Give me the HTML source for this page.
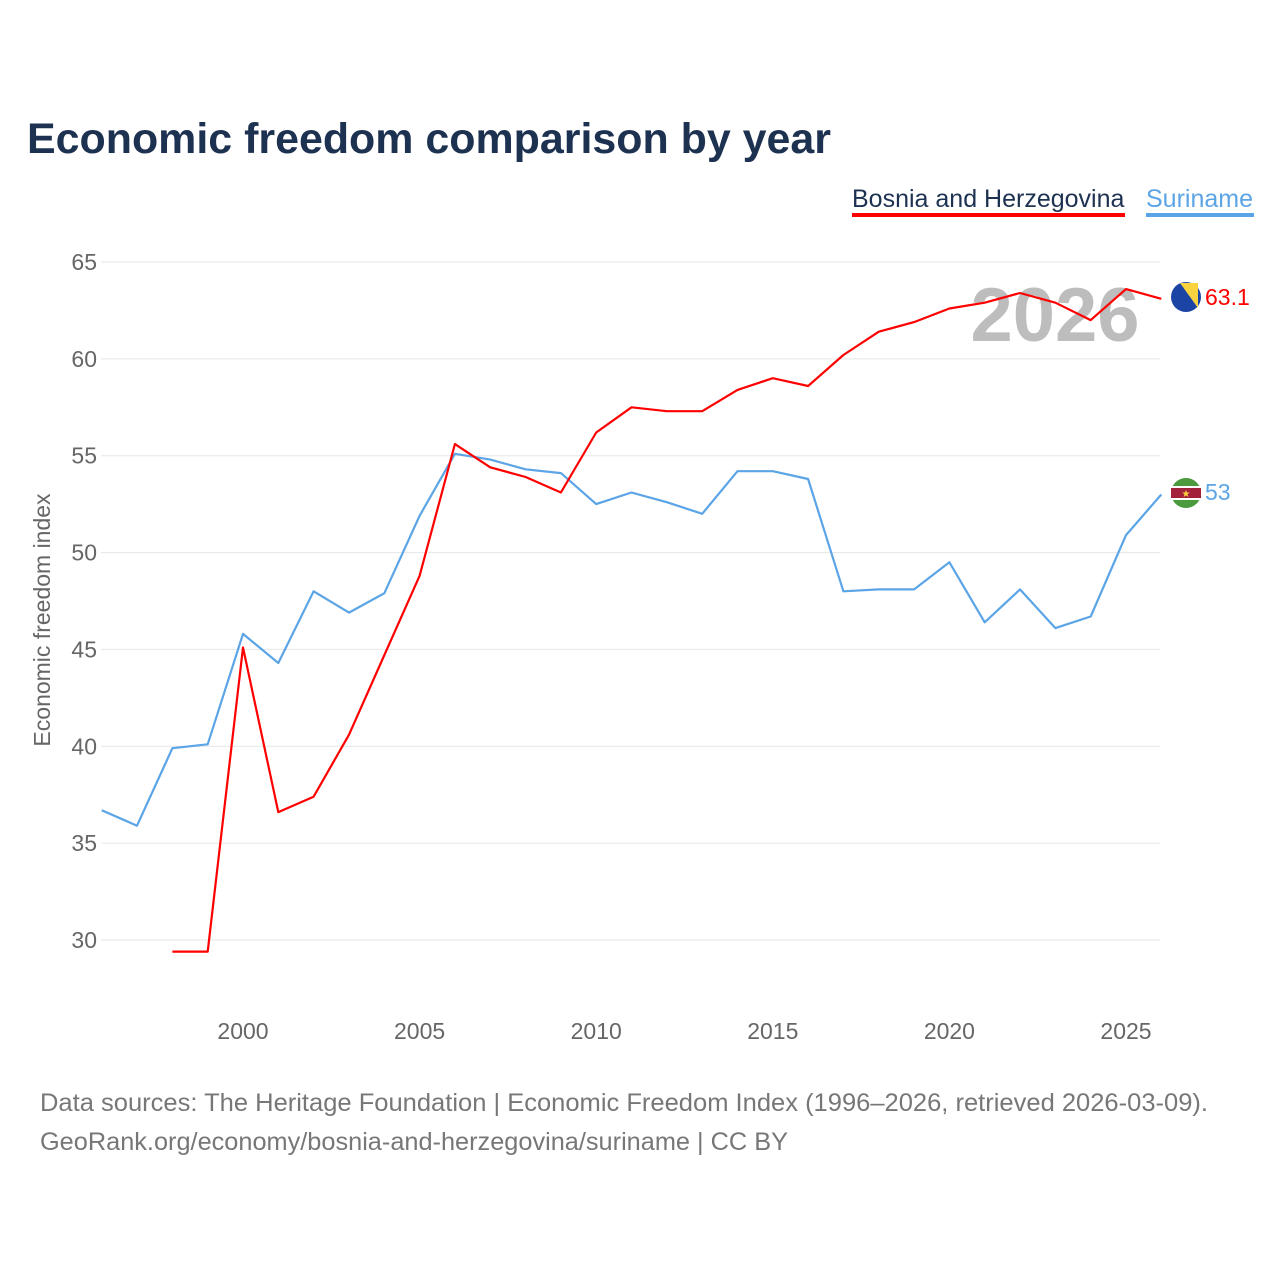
<!DOCTYPE html>
<html><head><meta charset="utf-8"><style>
body{margin:0;background:#fff;font-family:"Liberation Sans",sans-serif;}
</style></head><body>
<svg width="1280" height="1280" xmlns="http://www.w3.org/2000/svg" font-family="Liberation Sans, sans-serif">
<text x="27" y="153" font-size="43" font-weight="bold" fill="#1d3150" textLength="804" lengthAdjust="spacingAndGlyphs">Economic freedom comparison by year</text>
<g>
<text x="852" y="207" font-size="25" fill="#1d3150">Bosnia and Herzegovina</text>
<rect x="852" y="213" width="273" height="4" fill="#ff0000"/>
<text x="1146" y="207" font-size="25" fill="#5ba4e6">Suriname</text>
<rect x="1146" y="213" width="108" height="4" fill="#5ba4e6"/>
</g>
<g id="grid"></g>
<text x="1055" y="341" font-size="76" font-weight="bold" fill="#bdbdbd" text-anchor="middle">2026</text>
<text transform="translate(50,620) rotate(-90)" font-size="23" fill="#666" text-anchor="middle">Economic freedom index</text>
<g id="series"></g>
<g>
<circle cx="1186" cy="297" r="15" fill="#1b44a5"/>
<path d="M1180 283 L1198 283 L1198 308 Z" fill="#f8d33e"/>
</g>
<text x="1205" y="305" font-size="23" fill="#ff0000">63.1</text>
<g>
<circle cx="1186" cy="493" r="15" fill="#4b9a3d"/>
<rect x="1171" y="486" width="30" height="14" fill="#fff"/>
<rect x="1171" y="488" width="30" height="10" fill="#a3213a"/>
<text x="1186" y="497" font-size="10" fill="#f8d33e" text-anchor="middle">★</text>
</g>
<text x="1205" y="500" font-size="23" fill="#5ba4e6">53</text>
<text x="40" y="1111" font-size="25" fill="#777" textLength="1168" lengthAdjust="spacingAndGlyphs">Data sources: The Heritage Foundation | Economic Freedom Index (1996–2026, retrieved 2026-03-09).</text>
<text x="40" y="1150" font-size="25" fill="#777" textLength="748" lengthAdjust="spacingAndGlyphs">GeoRank.org/economy/bosnia-and-herzegovina/suriname | CC BY</text>
</svg>
<script>
const years=[1996,1997,1998,1999,2000,2001,2002,2003,2004,2005,2006,2007,2008,2009,2010,2011,2012,2013,2014,2015,2016,2017,2018,2019,2020,2021,2022,2023,2024,2025,2026];
const suriname=[36.7,35.9,39.9,40.1,45.8,44.3,48.0,46.9,47.9,51.9,55.1,54.8,54.3,54.1,52.5,53.1,52.6,52.0,54.2,54.2,53.8,48.0,48.1,48.1,49.5,46.4,48.1,46.1,46.7,50.9,53.0];
const bosnia=[null,null,29.4,29.4,45.1,36.6,37.4,40.6,44.7,48.8,55.6,54.4,53.9,53.1,56.2,57.5,57.3,57.3,58.4,59.0,58.6,60.2,61.4,61.9,62.6,62.9,63.4,62.9,62.0,63.6,63.1];
const yTicks=[30,35,40,45,50,55,60,65];
const xTicks=[2000,2005,2010,2015,2020,2025];
const NS="http://www.w3.org/2000/svg";
const xs=y=>243+(y-2000)*35.32;
const ys=v=>940-(v-30)*(678/35);
const grid=document.getElementById('grid');
yTicks.forEach(t=>{
 const l=document.createElementNS(NS,'line');
 l.setAttribute('x1',101);l.setAttribute('x2',1160);l.setAttribute('y1',ys(t));l.setAttribute('y2',ys(t));
 l.setAttribute('stroke','#e6e6e6');l.setAttribute('stroke-width',1);
 
 
 grid.appendChild(l);
 const tx=document.createElementNS(NS,'text');
 tx.setAttribute('x',97);tx.setAttribute('y',ys(t)+8);tx.setAttribute('text-anchor','end');
 tx.setAttribute('font-size',23);tx.setAttribute('fill','#666');tx.textContent=t;
 
 
 grid.appendChild(tx);
});
xTicks.forEach(t=>{
 const tx=document.createElementNS(NS,'text');
 tx.setAttribute('x',xs(t));tx.setAttribute('y',1039);tx.setAttribute('text-anchor','middle');
 tx.setAttribute('font-size',23);tx.setAttribute('fill','#666');tx.textContent=t;
 
 
 grid.appendChild(tx);
});
const g=document.getElementById('series');
function line(vals,color,name){
 let d='';let started=false;
 vals.forEach((v,i)=>{ if(v==null){started=false;return;} d+=(started?'L':'M')+xs(years[i]).toFixed(1)+' '+ys(v).toFixed(1)+' '; started=true;});
 const p=document.createElementNS(NS,'path');
 p.setAttribute('d',d);p.setAttribute('fill','none');p.setAttribute('stroke',color);p.setAttribute('stroke-width',2.2);
 p.setAttribute('stroke-linejoin','round');
 
 
 g.appendChild(p);
}
line(suriname,'#5ba4e6','line-suriname');
line(bosnia,'#ff0000','line-bosnia');
</script>
</body></html>
